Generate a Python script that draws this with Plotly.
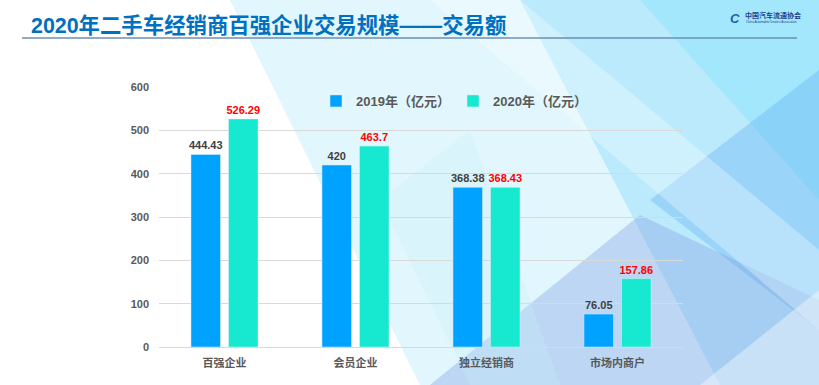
import plotly.graph_objects as go

categories = ["百强企业", "会员企业", "独立经销商", "市场内商户"]
values_2019 = [444.43, 420, 368.38, 76.05]
values_2020 = [526.29, 463.7, 368.43, 157.86]
series_names = ["2019年（亿元）", "2020年（亿元）"]
y_ticks = [0, 100, 200, 300, 400, 500, 600]

W, H = 819, 385
FONT = "Liberation Sans, Arial, Noto Sans CJK SC"


def px(x):
    return x / W


def py(y):
    return 1 - y / H


def poly(points, color):
    path = "M " + " L ".join(f"{px(x):.4f},{py(y):.4f}" for x, y in points) + " Z"
    return dict(type="path", xref="paper", yref="paper", path=path,
                fillcolor=color, line=dict(width=0), layer="below")


fig = go.Figure()
fig.add_trace(go.Bar(
    name=series_names[0], x=categories, y=values_2019,
    marker_color="#00A2FF",
    texttemplate="%{y}", textposition="outside", cliponaxis=False,
    constraintext="none",
    textfont=dict(family=FONT, size=11, color="#404040", weight="bold"),
))
fig.add_trace(go.Bar(
    name=series_names[1], x=categories, y=values_2020,
    marker_color="#17E8D0",
    texttemplate="%{y}", textposition="outside", cliponaxis=False,
    constraintext="none",
    textfont=dict(family=FONT, size=11, color="#FF0000", weight="bold"),
))

shapes = [
    poly([(230, 0), (819, 0), (819, 385), (420, 385)], "rgba(175,235,250,0.38)"),
    poly([(520, 0), (819, 0), (819, 385), (720, 385)], "rgba(130,215,250,0.4)"),
    poly([(640, 0), (819, 0), (819, 200)], "rgba(120,225,252,0.35)"),
    poly([(819, 70), (650, 200), (819, 330)], "rgba(100,175,245,0.38)"),
    poly([(430, 385), (640, 215), (819, 300), (819, 385)], "rgba(130,160,225,0.38)"),
    poly([(430, 0), (520, 0), (819, 250), (819, 330)], "rgba(255,255,255,0.3)"),
    poly([(700, 385), (819, 290), (819, 385)], "rgba(255,255,255,0.4)"),
    poly([(380, 200), (470, 130), (560, 385), (470, 385)], "rgba(200,240,250,0.3)"),
    dict(type="line", xref="paper", yref="paper",
         x0=px(22), x1=px(797), y0=py(38), y1=py(38),
         line=dict(color="#6D8FB3", width=1.5), layer="above"),
]

annotations = [
    dict(text="<b>2020年二手车经销商百强企业交易规模——交易额</b>",
         x=px(29), y=py(25), xref="paper", yref="paper",
         xanchor="left", yanchor="middle", showarrow=False,
         font=dict(family=FONT, size=21.4, color="#0070C0")),
    dict(text="<b>中国汽车流通协会</b>",
         x=px(743), y=py(15), xref="paper", yref="paper",
         xanchor="left", yanchor="middle", showarrow=False,
         font=dict(family="Noto Sans CJK SC", size=7, color="#1F3F8F")),
    dict(text="China Automobile Dealers Association",
         x=px(744), y=py(22), xref="paper", yref="paper",
         xanchor="left", yanchor="middle", showarrow=False,
         font=dict(family=FONT, size=3, color="#1F3F8F")),
    dict(text="<b><i>C</i></b>",
         x=px(735), y=py(18), xref="paper", yref="paper",
         xanchor="center", yanchor="middle", showarrow=False,
         font=dict(family=FONT, size=13, color="#1F5FAF")),
]

fig.update_layout(
    width=W, height=H,
    margin=dict(l=0, r=0, t=0, b=0, autoexpand=False),
    paper_bgcolor="white", plot_bgcolor="rgba(0,0,0,0)",
    barmode="group", bargap=0.427, bargroupgap=0.213,
    font=dict(family=FONT, color="#595959"),
    shapes=shapes, annotations=annotations,
    legend=dict(orientation="h", x=px(316), y=py(101),
                xanchor="left", yanchor="middle",
                bgcolor="rgba(0,0,0,0)",
                font=dict(family=FONT, size=13, color="#595959", weight="bold"),
                itemwidth=30, entrywidth=92, entrywidthmode="pixels"),
    xaxis=dict(domain=[px(159), px(683)], showgrid=False, showline=False,
               zeroline=False, ticks="", automargin=False, ticklabelstandoff=8,
               tickfont=dict(family=FONT, size=11, color="#595959", weight="bold")),
    yaxis=dict(domain=[py(347), py(87)], range=[0, 600], tickvals=y_ticks,
               showgrid=True, gridcolor="#D9D9D9", gridwidth=1,
               zeroline=True, zerolinecolor="#D9D9D9", zerolinewidth=1,
               showline=False, ticks="", ticklabelstandoff=9, automargin=False,
               tickfont=dict(family=FONT, size=11, color="#595959", weight="bold")),
)

fig.write_html("out.html", config={"displayModeBar": False},
               post_script="document.body.style.margin='0';")
